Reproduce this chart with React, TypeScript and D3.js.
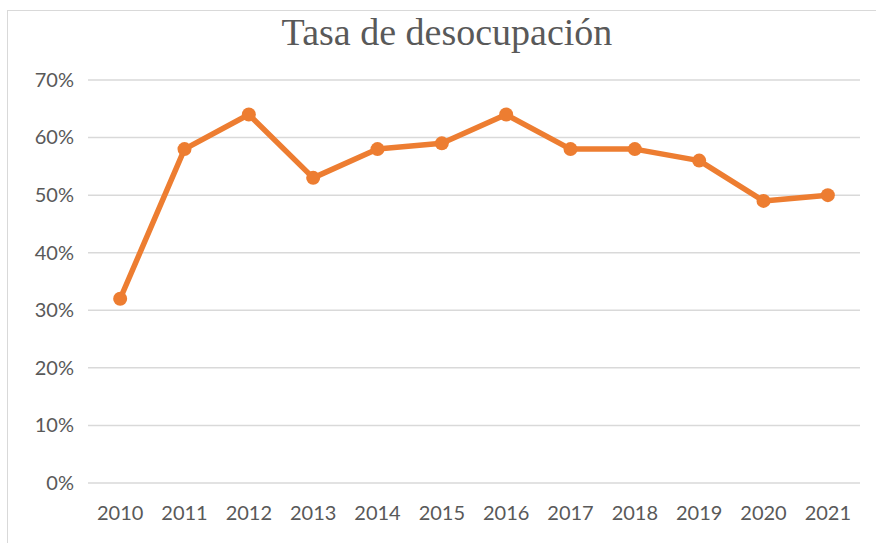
import { useEffect, useRef } from "react";
import * as d3 from "d3";

const years = ["2010", "2011", "2012", "2013", "2014", "2015", "2016", "2017", "2018", "2019", "2020", "2021"];
const rates = [0.32, 0.58, 0.64, 0.53, 0.58, 0.59, 0.64, 0.58, 0.58, 0.56, 0.49, 0.5];
const yTicks = [0, 0.1, 0.2, 0.3, 0.4, 0.5, 0.6, 0.7];

const width = 876;
const height = 543;
const marginTop = 80;
const marginBottom = 60;
const marginLeft = 88;
const marginRight = 16;

const orange = "#ED7D31";
const textColor = "#595959";
const labelFont = "Lato, 'Open Sans', sans-serif";

const App = () => {
  const xRef = useRef<SVGGElement>(null);
  const yRef = useRef<SVGGElement>(null);

  const chartBottomY = height - marginBottom;

  const xScale = d3
    .scaleBand()
    .domain(years)
    .range([marginLeft, width - marginRight])
    .padding(0);

  const yScale = d3
    .scaleLinear()
    .domain([0, 0.7])
    .range([chartBottomY, marginTop]);

  const xPos = (d: string) => (xScale(d) ?? 0) + xScale.bandwidth() / 2;

  const line = d3
    .line<number>()
    .x((_, i) => xPos(years[i]))
    .y((d) => yScale(d));

  useEffect(() => {
    const xAxis = d3.axisBottom(xScale).tickSize(0).tickPadding(23);
    const yAxis = d3
      .axisLeft(yScale)
      .tickValues(yTicks)
      .tickFormat(d3.format(".0%"))
      .tickSize(0)
      .tickPadding(14);

    const gx = d3.select(xRef.current!).call(xAxis);
    gx.select(".domain").remove();
    gx.selectAll("text")
      .attr("font-size", "20px")
      .attr("font-family", labelFont)
      .attr("fill", textColor);

    const gy = d3.select(yRef.current!).call(yAxis);
    gy.select(".domain").remove();
    gy.selectAll("text")
      .attr("font-size", "20px")
      .attr("font-family", labelFont)
      .attr("fill", textColor);
  }, []);

  return (
    <svg
      width={width}
      height={height}
      style={{ position: "absolute", left: 0, top: 0, background: "#fff" }}
    >
      {/* chart frame */}
      <rect x={7.5} y={10.5} width={width + 10} height={height} fill="none" stroke="#d9d9d9" />
      <text
        x={447}
        y={45}
        textAnchor="middle"
        fontFamily="'Liberation Serif', 'Times New Roman', serif"
        fontSize={38}
        fill={textColor}
      >
        Tasa de desocupación
      </text>
      <g className="grid">
        {yTicks.map((t) => (
          <line
            key={t}
            x1={marginLeft}
            x2={width - marginRight}
            y1={yScale(t)}
            y2={yScale(t)}
            stroke="#d9d9d9"
            strokeWidth={1.5}
          />
        ))}
      </g>
      <g ref={xRef} transform={`translate(0,${chartBottomY})`}></g>
      <g ref={yRef} transform={`translate(${marginLeft},0)`}></g>
      <path
        d={line(rates) ?? ""}
        fill="none"
        stroke={orange}
        strokeWidth={5.5}
        strokeLinejoin="round"
        strokeLinecap="round"
      />
      <g className="markers">
        {rates.map((r, i) => (
          <circle key={years[i]} cx={xPos(years[i])} cy={yScale(r)} r={7} fill={orange} />
        ))}
      </g>
    </svg>
  );
};

export default App;
